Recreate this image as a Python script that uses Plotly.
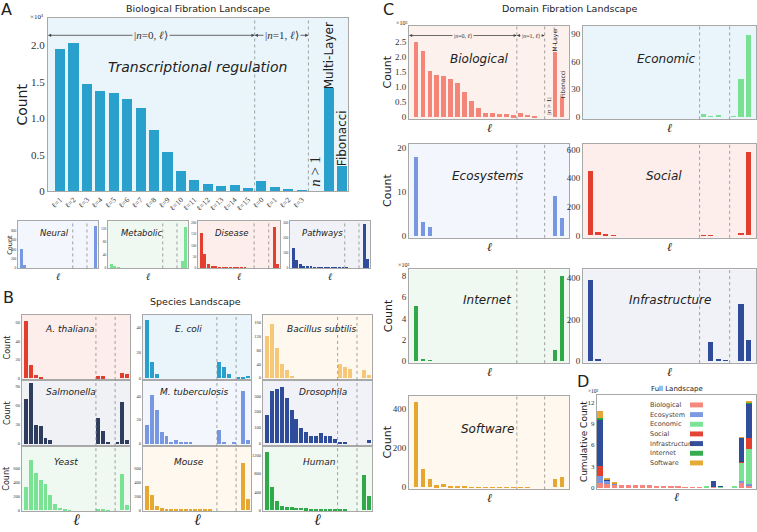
import plotly.graph_objects as go

W, H = 757, 532
SANS = "DejaVu Sans"
SERIF = "Liberation Serif"

# x slots shared by every landscape panel:
# 0-14 -> |n=0,l>, 15-18 -> |n=1,l>, 19 -> n>1, 20 -> multi-layer, 21 -> fibonacci
slots = list(range(22))
a_tickvals = list(range(19))
a_ticktext = [f"ℓ={i}" for i in range(1, 16)] + [f"ℓ={i}" for i in range(4)]

# A - biological landscape (x10^3) and its sub-domains
transcriptional = [1.95, 2.04, 1.47, 1.38, 1.35, 1.27, 1.15, 0.84, 0.55, 0.29, 0.16, 0.11, 0.08, 0.09, 0.05,
                   0.15, 0.07, 0.03, 0.01, 0, 1.42, 0.35]
neural = [406, 60] + [0] * 19 + [900]
metabolic = [10, 3, 2] + [0] * 17 + [20, 125]
disease = [157, 60, 17, 4, 4, 3, 3, 2, 2, 2, 1, 1, 1, 0, 0, 0, 0, 0, 0, 0, 183, 15]
pathways = [133, 50, 27, 13, 9, 6, 5, 4, 3, 3, 2, 2, 1, 1, 1, 1, 0, 0, 0, 0, 290, 60]

# B - species
athaliana = [62, 14, 4, 1] + [0] * 11 + [2, 2, 0, 0, 0, 6, 5]
ecoli = [46, 13, 3] + [0] * 12 + [13, 9, 3, 0, 1, 1, 2]
bacillus = [122, 158, 87, 42, 22, 6] + [0] * 9 + [40, 32, 25, 0, 0, 22, 8]
salmonella = [70, 95, 30, 27, 8, 6] + [0] * 9 + [40, 20, 3, 0, 1, 65, 5]
mtb = [16, 41, 28, 10, 6, 1, 3, 1, 1, 1] + [0] * 5 + [11, 1, 0, 1, 0, 44, 3]
drosophila = [180, 330, 345, 360, 285, 215, 155, 95, 70, 50, 50, 65, 50, 50, 30, 12, 5, 0, 0, 0, 0, 20]
yeast = [335, 720, 530, 425, 370, 215, 85, 30, 5, 2] + [0] * 5 + [10, 3, 2, 0, 0, 520, 75]
mouse = [350, 215, 65, 25, 10, 8, 6, 5, 5, 5, 5, 5, 5, 5, 0, 0, 0, 0, 0, 0, 670, 160]
human = [1280, 510, 200, 100, 70, 65, 55, 45, 40, 35, 30, 25, 20, 20, 18, 10, 5, 0, 0, 0, 780, 320]

# C - domains
biological = [2.53, 2.22, 1.54, 1.40, 1.37, 1.28, 1.15, 0.83, 0.54, 0.31, 0.15, 0.12, 0.09, 0.09, 0.06,
              0.15, 0.08, 0.03, 0, 0, 2.18, 0.64]
economic = [0] * 15 + [3, 1, 2, 0, 1, 41, 89]
ecosystems = [18, 3, 2] + [0] * 17 + [9, 4]
social = [450, 25, 5, 1] + [0] * 11 + [2, 1, 0, 0, 0, 15, 580]
internet = [5.1, 0.2, 0.05] + [0] * 17 + [1.0, 7.9]
infrastructure = [390, 5] + [0] * 14 + [90, 5, 1, 0, 275, 100]
software = [435, 95, 45, 10, 15, 8, 8, 4, 1, 1, 2, 1, 1, 1, 1, 1, 1, 0, 0, 0, 45, 52]

# D - full landscape, stacked (x10^2)
full_names = ["Biological", "Ecosystem", "Economic", "Social", "Infrastructure", "Internet", "Software"]
full_bio = [0.6, 0.5, 0.45, 0.4, 0.4, 0.38, 0.35, 0.3, 0.25, 0.18, 0.12, 0.1, 0.07, 0.06, 0.05,
            0.05, 0.03, 0.02, 0, 0, 0.6, 0.3]
full_eco = [1.1, 0.45, 0.1] + [0] * 17 + [0.4, 0.15]
full_econ = [0] * 15 + [0.2, 0, 0.1, 0, 0.1, 2.6, 5.0]
full_social = [1.3, 0.05, 0.02] + [0] * 17 + [0.05, 1.5]
full_infra = [6.7, 0.2, 0.05] + [0] * 13 + [0.9, 0.1, 0, 0, 3.4, 5.0]
full_internet = [0.1] + [0] * 19 + [0.05, 0.1]
full_software = [1.0, 0.1, 0.05] + [0] * 17 + [0.05, 0.1]

C_BLUE, BG_BLUE = "#1a98c8", "#eaf5fb"
C_SALMON, BG_SALMON = "#f47c70", "#fdf1ee"
C_RED, BG_RED = "#e0301e", "#fdeeec"
C_NAVY, BG_NAVY = "#1e2d52", "#eff1f5"
C_CORN, BG_CORN = "#6d8fdf", "#f3f6fc"
C_DBLUE, BG_DBLUE = "#1f3e94", "#f0f2f8"
C_LGREEN, BG_GREEN = "#6fe08b", "#eff9f1"
C_GREEN = "#1fa33a"
C_LORANGE, BG_ORANGE = "#f7c36e", "#fef8ee"
C_ORANGE = "#e3a123"

fig = go.Figure()
shapes, annotations = [], []
made = []


def text(x, y, s, size, family=SANS, angle=0, xanchor="center", yanchor="middle", color="#222"):
    annotations.append(dict(x=x / W, y=1 - y / H, xref="paper", yref="paper", text=s, showarrow=False,
                            textangle=angle, xanchor=xanchor, yanchor=yanchor,
                            font=dict(family=family, size=size, color=color)))


def label(xn, yn, x, y, s, size, family=SANS, angle=0):
    annotations.append(dict(x=x, y=y, xref=xn, yref=yn, text=s, showarrow=False, textangle=angle,
                            xanchor="center", yanchor="middle", font=dict(family=family, size=size, color="#222")))


def panel(box, values, color, bg, yrange, yticks, yticktext=None, tick_size=5, name=None,
          name_xy=(0.5, 0.75), name_size=9, xrange=(-0.9, 21.6), width=0.75, dividers=True):
    made.append(box)
    k = len(made)
    sfx = "" if k == 1 else str(k)
    xn, yn = "x" + sfx, "y" + sfx
    x0, x1, y0, y1 = box
    fig.update_layout({
        "xaxis" + sfx: dict(domain=[x0 / W, x1 / W], anchor=yn, range=list(xrange), showticklabels=False,
                            ticks="", showline=True, mirror=True, linecolor="#a8a8a8", linewidth=1,
                            showgrid=False, zeroline=False),
        "yaxis" + sfx: dict(domain=[1 - y1 / H, 1 - y0 / H], anchor=xn, range=list(yrange), tickvals=yticks,
                            ticktext=yticktext or [str(v) for v in yticks], ticks="", showline=True,
                            mirror=True, linecolor="#a8a8a8", linewidth=1, showgrid=False, zeroline=False,
                            tickfont=dict(family=SERIF, size=tick_size, color="#333")),
    })
    shapes.append(dict(type="rect", xref=xn + " domain", yref=yn + " domain", x0=0, x1=1, y0=0, y1=1,
                       fillcolor=bg, line_width=0, layer="below"))
    if dividers:
        for xv in (14.5, 18.5):
            shapes.append(dict(type="line", xref=xn, yref=yn + " domain", x0=xv, x1=xv, y0=0, y1=1,
                               line=dict(color="#8a8a8a", width=0.8, dash="dot")))
    if values is not None:
        fig.add_trace(go.Bar(x=slots, y=values, marker_color=color, marker_line_width=0, width=width,
                             opacity=0.92, xaxis=xn, yaxis=yn, showlegend=False))
    if name:
        label(xn + " domain", yn + " domain", name_xy[0], name_xy[1], "<i>" + name + "</i>", name_size)
    return xn, yn


def arrow_label(xn, yn, xa, xb, yv, s, size, bg):
    mid = (xa + xb) / 2
    for end in (xa, xb):
        annotations.append(dict(x=end, y=yv, ax=mid, ay=yv, xref=xn, yref=yn, axref=xn, ayref=yn, text="",
                                showarrow=True, arrowhead=2, arrowsize=0.8, arrowwidth=0.8,
                                arrowcolor="#444"))
    annotations.append(dict(x=mid, y=yv, xref=xn, yref=yn, text=s, showarrow=False, bgcolor=bg,
                            xanchor="center", yanchor="middle", font=dict(family=SERIF, size=size, color="#333")))


# ---------------- A ----------------
xa, ya = panel((48, 348, 17, 193), transcriptional, C_BLUE, BG_BLUE, (0, 2.38), [0, 0.5, 1.0, 1.5, 2.0],
               ["0", "0.5", "1.0", "1.5", "2.0"], tick_size=11, name="Transcriptional regulation",
               name_xy=(0.497, 0.716), name_size=14, xrange=(-0.9, 21.45), width=0.75)
fig.update_layout(xaxis=dict(showticklabels=True, tickvals=a_tickvals, ticktext=a_ticktext, tickangle=-45,
                             tickfont=dict(family=SERIF, size=7.5, color="#333")))
arrow_label(xa, ya, -0.9, 14.5, 2.14, "|<i>n</i>=0, <i>ℓ</i>⟩", 11, BG_BLUE)
arrow_label(xa, ya, 14.5, 18.5, 2.14, "|<i>n</i>=1, <i>ℓ</i>⟩", 11, BG_BLUE)
label(xa, ya, 20, 1.86, "Multi-Layer", 12, angle=-90)
label(xa, ya, 21, 0.73, "Fibonacci", 12, angle=-90)
label(xa, ya, 19, 0.27, "<i>n</i> > 1", 15, family=SERIF, angle=-90)
text(6, 9, "A", 16)
text(198, 8, "Biological Fibration Landscape", 9.5)
text(22, 105, "Count", 14, angle=-90)
text(36, 16, "×10³", 7, family=SERIF)

subs = [((18, 98), neural, C_CORN, BG_CORN, (-10, 1010), [0, 200, 400, 600, 800], "Neural", 0.46),
        ((108, 188), metabolic, C_LGREEN, BG_GREEN, (-2, 144), [0, 40, 80, 120], "Metabolic", 0.42),
        ((198, 280), disease, C_RED, BG_RED, (-3, 209), [0, 50, 100, 150, 200], "Disease", 0.41),
        ((290, 370), pathways, C_DBLUE, BG_DBLUE, (-4, 313), [0, 100, 200, 300], "Pathways", 0.41)]
for (x0, x1), vals, col, bg, yr, yt, nm, nx in subs:
    panel((x0, x1, 223, 271), vals, col, bg, yr, yt, tick_size=3.5, name=nm, name_xy=(nx, 0.74),
          name_size=8.5, width=0.8)
    text((x0 + x1) / 2, 279, "<i>ℓ</i>", 10, family=SERIF)
text(10, 247, "Count", 6.5, angle=-90)

# ---------------- B ----------------
text(8, 300, "B", 16)
text(195, 305, "Species Landscape", 9.5)
cols = [(22, 130), (143, 251), (263, 372)]
rows = [(318, 384), (384, 451), (451, 517)]
species = [
    [(athaliana, C_RED, BG_RED, (-2, 68.6), [0, 20, 40, 60], "A. thaliana", 0.44),
     (ecoli, C_BLUE, BG_BLUE, (-1.6, 50.2), [0, 20, 40], "E. coli", 0.42),
     (bacillus, C_LORANGE, BG_ORANGE, (-6, 183), [0, 40, 80, 120, 160], "Bacillus subtilis", 0.54)],
    [(salmonella, C_NAVY, BG_NAVY, (-4, 100), [0, 30, 60, 90], "Salmonella", 0.45),
     (mtb, C_CORN, BG_CORN, (-2.2, 53.6), [0, 20, 40], "M. tuberculosis", 0.48),
     (drosophila, C_DBLUE, BG_DBLUE, (-17, 402), [0, 100, 200, 300], "Drosophila", 0.55)],
    [(yeast, C_LGREEN, BG_GREEN, (-14, 913), [0, 200, 400, 600], "Yeast", 0.41),
     (mouse, C_ORANGE, BG_ORANGE, (-14, 913), [0, 200, 400, 600], "Mouse", 0.43),
     (human, C_GREEN, BG_GREEN, (-22, 1410), [0, 400, 800, 1200], "Human", 0.52)],
]
for (y0, y1), row in zip(rows, species):
    ny = 0.78 if y0 == 318 else (0.82 if y0 == 384 else 0.76)
    for (x0, x1), (vals, col, bg, yr, yt, nm, nx) in zip(cols, row):
        panel((x0, x1, y0, y1), vals, col, bg, yr, yt, tick_size=4.5, name=nm, name_xy=(nx, ny),
              name_size=9, width=0.8)
    text(7, (y0 + y1) / 2, "Count", 8, angle=-90)
for x0, x1 in cols:
    text((x0 + x1) / 2, 525, "<i>ℓ</i>", 16, family=SERIF)

# ---------------- C ----------------
text(388, 9, "C", 16)
text(569, 8, "Domain Fibration Landscape", 9.5)
c_cols = [(409, 569), (583, 756)]
c_rows = [(25, 120), (145, 240), (272, 367), (400, 495)]
domains = [
    [(biological, C_SALMON, BG_SALMON, (-0.09, 3.05), [0, 0.5, 1.0, 1.5, 2.0, 2.5],
      ["0", "0.5", "1.0", "1.5", "2.0", "2.5"], "Biological", (0.44, 0.64)),
     (economic, C_LGREEN, BG_BLUE, (-3, 99), [0, 30, 60, 90], None, "Economic", (0.48, 0.64))],
    [(ecosystems, C_CORN, BG_CORN, (-0.5, 20.9), [0, 10, 20], None, "Ecosystems", (0.49, 0.66)),
     (social, C_RED, BG_RED, (-16, 639), [0, 200, 400, 600], None, "Social", (0.47, 0.66))],
    [(internet, C_GREEN, BG_GREEN, (-0.18, 8.58), [0, 2, 4, 6, 8], None, "Internet", (0.49, 0.67)),
     (infrastructure, C_DBLUE, BG_DBLUE, (-9.5, 441), [0, 200, 400], None, "Infrastructure", (0.5, 0.67))],
    [(software, C_ORANGE, BG_ORANGE, (-12, 467), [0, 200, 400], None, "Software", (0.49, 0.65))],
]
c_axes = []
for (y0, y1), row in zip(c_rows, domains):
    for (x0, x1), (vals, col, bg, yr, yt, ytt, nm, nxy) in zip(c_cols, row):
        c_axes.append(panel((x0, x1, y0, y1), vals, col, bg, yr, yt, ytt, tick_size=9, name=nm, name_xy=nxy,
                            name_size=12, xrange=(-1, 22), width=0.68))
        text((x0 + x1) / 2, y1 + 9, "<i>ℓ</i>", 12, family=SERIF)
    text(388, (y0 + y1) / 2, "Count", 11, angle=-90)
xb, yb = c_axes[0]
arrow_label(xb, yb, -1, 14.5, 2.72, "|<i>n</i>=0, <i>ℓ</i>⟩", 6, BG_SALMON)
arrow_label(xb, yb, 14.5, 18.5, 2.72, "|<i>n</i>=1, <i>ℓ</i>⟩", 6, BG_SALMON)
label(xb, yb, 20, 2.59, "M-Layer", 6, angle=-90)
label(xb, yb, 21, 1.09, "Fibonacci", 6, angle=-90)
label(xb, yb, 19, 0.34, "|<i>n</i> > 1|", 7, family=SERIF, angle=-90)
text(401, 22, "×10³", 6, family=SERIF)
text(403, 268, "×10²", 6, family=SERIF)

# ---------------- D ----------------
text(583, 386, "D", 16)
text(677, 393, "Full Landscape", 7)
xd, yd = panel((597, 756, 399, 495), None, None, "#ffffff", (-0.3, 13.1), [0, 3, 6, 9, 12], tick_size=7,
               xrange=(-0.42, 22), dividers=False)
full_stack = [full_bio, full_eco, full_econ, full_social, full_infra, full_internet, full_software]
full_colors = [C_SALMON, C_CORN, C_LGREEN, C_RED, C_DBLUE, C_GREEN, C_ORANGE]
for i, (nm, vals, col) in enumerate(zip(full_names, full_stack, full_colors)):
    fig.add_trace(go.Bar(x=slots, y=vals, name=nm, marker_color=col, marker_line_width=0, width=0.75,
                         opacity=0.92, xaxis=xd, yaxis=yd, showlegend=False))
    ly = 409.3 + i * 9.8
    text(648, ly, nm, 6.5, xanchor="left", color="#444")
    shapes.append(dict(type="rect", xref="paper", yref="paper", x0=690 / W, x1=703 / W,
                       y0=1 - (ly + 2.5) / H, y1=1 - (ly - 2.5) / H, fillcolor=col, opacity=0.9, line_width=0))
text(584, 447, "Cumulative Count", 9, angle=-90)
text(593, 395, "×10²", 5.5, family=SERIF)
text(676, 503, "<i>ℓ</i>", 12, family=SERIF)

fig.update_layout(
    width=W, height=H, margin=dict(l=0, r=0, t=0, b=0),
    paper_bgcolor="white", plot_bgcolor="white", barmode="stack", bargap=0,
    shapes=shapes, annotations=annotations, showlegend=False,
    font=dict(family=SANS, color="#222"),
)
# the page body has a default margin; drop it so the figure fills the window exactly
fig.write_html("out.html", config={"displayModeBar": False},
               post_script="document.body.style.margin='0';")
